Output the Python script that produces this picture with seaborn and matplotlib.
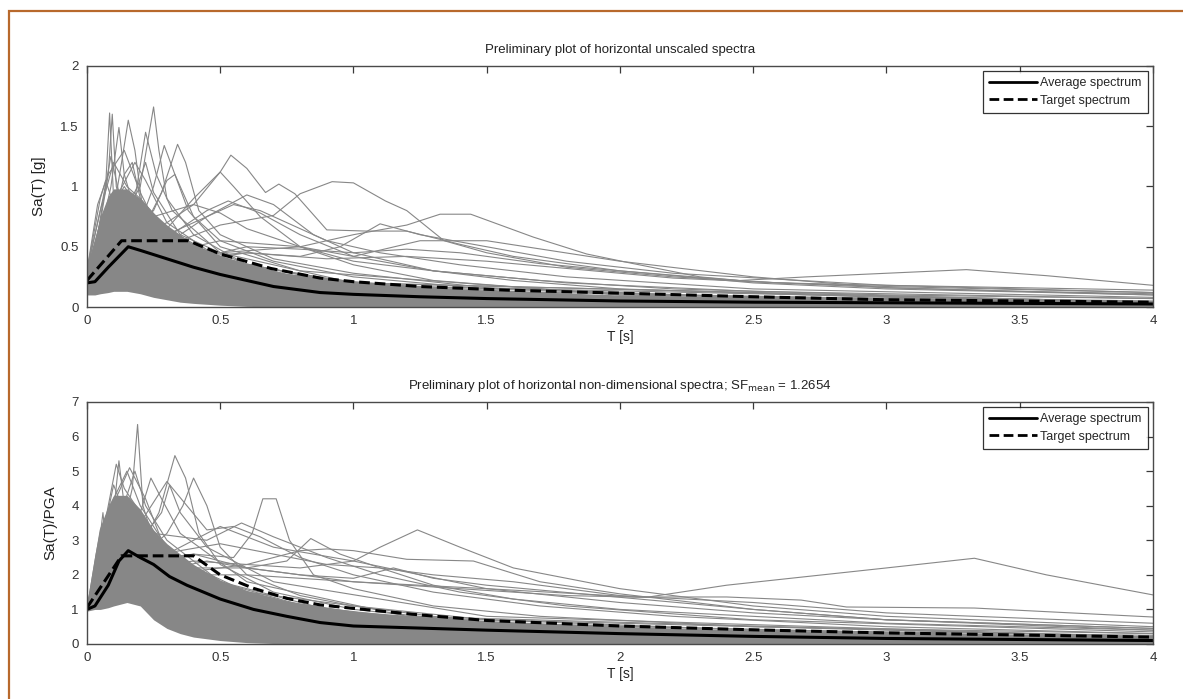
import numpy as np
import pandas as pd
import matplotlib.pyplot as plt
import seaborn as sns
from matplotlib.patches import Rectangle

# ---- data ----
# average / target spectra, top panel (Sa in g)
top_avg_T = [0, 0.03, 0.08, 0.155, 0.2, 0.3, 0.4, 0.5, 0.7, 0.875, 1.0, 1.25, 1.5, 2, 2.5, 3, 3.5, 4]
top_avg_sa = [0.2, 0.21, 0.33, 0.5, 0.47, 0.4, 0.33, 0.27, 0.17, 0.12, 0.105, 0.085, 0.07, 0.05, 0.04, 0.035, 0.03, 0.025]
top_tgt_T = [0, 0.13, 0.38, 0.5, 0.69, 0.875, 1.0, 1.25, 1.575, 2, 2.5, 3, 3.5, 4]
top_tgt_sa = [0.22, 0.55, 0.55, 0.44, 0.32, 0.24, 0.21, 0.17, 0.14, 0.115, 0.085, 0.06, 0.05, 0.04]

# average / target spectra, bottom panel (Sa/PGA)
bot_avg_T = [0, 0.03, 0.08, 0.12, 0.155, 0.2, 0.25, 0.31, 0.375, 0.5, 0.625, 0.75, 0.875, 1.0, 1.25, 1.5, 2, 2.5, 3, 3.5, 4]
bot_avg_sa = [1.0, 1.1, 1.7, 2.4, 2.7, 2.5, 2.3, 1.95, 1.7, 1.3, 1.0, 0.8, 0.62, 0.52, 0.46, 0.4, 0.3, 0.22, 0.16, 0.13, 0.1]
bot_tgt_T = [0, 0.13, 0.4, 0.5, 0.625, 0.75, 0.875, 1.0, 1.25, 1.5, 2, 2.5, 3, 3.5, 4]
bot_tgt_sa = [1.05, 2.55, 2.55, 2.0, 1.61, 1.32, 1.13, 1.03, 0.84, 0.68, 0.52, 0.41, 0.32, 0.26, 0.2]

# envelope of the dense bundle of records
env_T = [0, 0.03, 0.05, 0.08, 0.1, 0.15, 0.2, 0.25, 0.3, 0.35, 0.4, 0.5, 0.6, 0.75, 1.0, 1.25, 1.5, 2, 2.5, 3, 3.5, 4]
top_env_hi = [0.33, 0.55, 0.75, 0.92, 0.98, 0.98, 0.9, 0.78, 0.68, 0.6, 0.52, 0.43, 0.36, 0.28, 0.21, 0.17, 0.14, 0.1, 0.08, 0.065, 0.055, 0.045]
top_env_lo = [0.1, 0.1, 0.11, 0.12, 0.13, 0.13, 0.11, 0.08, 0.06, 0.04, 0.03, 0.015, 0.005, 0, 0, 0, 0, 0, 0, 0, 0, 0]
bot_env_hi = [1.2, 2.6, 3.4, 4.0, 4.3, 4.3, 3.9, 3.3, 2.9, 2.6, 2.3, 1.85, 1.55, 1.25, 0.95, 0.8, 0.68, 0.5, 0.4, 0.33, 0.28, 0.24]
bot_env_lo = [0.95, 1.0, 1.0, 1.05, 1.1, 1.2, 1.1, 0.7, 0.45, 0.3, 0.2, 0.1, 0.04, 0, 0, 0, 0, 0, 0, 0, 0, 0]

# individual records that stand out of the bundle, top panel
top_rec_T = [
    [0, 0.04, 0.07, 0.085, 0.1, 0.13, 0.2, 0.3, 0.5, 0.8, 1.2, 2, 3, 4],
    [0, 0.05, 0.08, 0.095, 0.11, 0.15, 0.25, 0.4, 0.7, 1, 2, 4],
    [0, 0.05, 0.09, 0.12, 0.14, 0.18, 0.25, 0.4, 0.6, 1, 2, 4],
    [0, 0.06, 0.1, 0.13, 0.155, 0.18, 0.21, 0.3, 0.5, 0.8, 1.5, 4],
    [0, 0.08, 0.15, 0.2, 0.23, 0.25, 0.27, 0.3, 0.4, 0.6, 1, 2, 4],
    [0, 0.1, 0.18, 0.22, 0.26, 0.32, 0.5, 1, 4],
    [0, 0.1, 0.2, 0.25, 0.29, 0.33, 0.4, 0.5, 0.7, 1, 1.5, 2.5, 4],
    [0, 0.1, 0.2, 0.28, 0.34, 0.37, 0.42, 0.5, 0.7, 1, 1.5, 2.5, 4],
    [0, 0.1, 0.2, 0.3, 0.4, 0.5, 0.54, 0.6, 0.67, 0.72, 0.78, 0.9, 1.05, 1.2, 1.4, 1.6, 2, 2.5, 3, 4],
    [0, 0.1, 0.2, 0.35, 0.5, 0.6, 0.7, 0.8, 0.92, 1.0, 1.12, 1.2, 1.34, 1.5, 1.8, 2.2, 2.6, 3, 4],
    [0, 0.2, 0.5, 0.8, 1.0, 1.2, 1.325, 1.44, 1.675, 1.875, 2.05, 2.3, 2.45, 2.7, 3.0, 3.3, 3.6, 4],
    [0, 0.2, 0.5, 0.8, 1.0, 1.25, 1.5, 2.0, 2.5, 3.0, 3.5, 4],
    [0, 0.15, 0.3, 0.4, 0.5, 0.55, 0.65, 0.8, 1.0, 1.3, 2, 4],
    [0, 0.2, 0.35, 0.45, 0.6, 0.7, 0.85, 1.0, 1.3, 1.6, 2, 3, 4],
    [0, 0.2, 0.35, 0.45, 0.53, 0.65, 0.8, 1.0, 1.3, 1.8, 2.5, 4],
    [0, 0.3, 0.6, 0.8, 0.95, 1.1, 1.25, 1.5, 1.8, 2.2, 3, 4],
    [0, 0.2, 0.4, 0.55, 0.65, 0.75, 0.9, 1.1, 1.4, 1.8, 2.5, 4],
    [0, 0.3, 0.6, 0.8, 1.0, 1.2, 1.4, 1.7, 2.0, 2.5, 3, 4],
    [0, 0.1, 0.25, 0.4, 0.5, 0.6, 0.8, 1.0, 1.3, 1.7, 2.2, 3, 4],
    [0, 0.05, 0.1, 0.15, 0.2, 0.3, 0.5, 1, 2, 4],
    [0, 0.05, 0.12, 0.18, 0.22, 0.3, 0.5, 1, 2, 4],
    [0, 0.04, 0.08, 0.14, 0.2, 0.28, 0.4, 0.7, 1.5, 4],
    [0, 0.3, 0.6, 0.9, 1.2, 1.5, 1.8, 2.2, 2.6, 3, 4],
    [0, 0.06, 0.09, 0.12, 0.16, 0.25, 0.4, 1, 4],
    [0, 0.1, 0.14, 0.17, 0.2, 0.3, 0.5, 1, 4],
    [0, 0.12, 0.19, 0.22, 0.25, 0.35, 0.6, 1, 4],
    [0, 0.05, 0.07, 0.1, 0.14, 0.2, 0.3, 0.6, 1.5, 4],
    [0, 0.15, 0.25, 0.3, 0.33, 0.38, 0.5, 0.8, 2, 4],
]
top_rec_sa = [
    [0.3, 0.6, 1.0, 1.61, 0.9, 0.8, 0.6, 0.4, 0.25, 0.15, 0.1, 0.05, 0.03, 0.02],
    [0.3, 0.7, 1.1, 1.6, 1.0, 0.7, 0.5, 0.35, 0.2, 0.12, 0.06, 0.02],
    [0.3, 0.6, 1.0, 1.49, 1.1, 0.8, 0.6, 0.4, 0.3, 0.15, 0.07, 0.03],
    [0.25, 0.5, 0.8, 1.2, 1.55, 1.3, 0.8, 0.55, 0.35, 0.2, 0.1, 0.03],
    [0.3, 0.6, 0.8, 1.0, 1.4, 1.66, 1.3, 0.9, 0.6, 0.35, 0.2, 0.08, 0.03],
    [0.25, 0.6, 0.9, 1.45, 1.1, 0.8, 0.45, 0.2, 0.04],
    [0.25, 0.5, 0.7, 1.0, 1.34, 1.1, 0.75, 0.55, 0.38, 0.25, 0.15, 0.08, 0.04],
    [0.2, 0.4, 0.6, 0.95, 1.35, 1.2, 0.8, 0.6, 0.4, 0.28, 0.16, 0.08, 0.04],
    [0.25, 0.45, 0.6, 0.7, 0.85, 1.12, 1.26, 1.15, 0.95, 1.02, 0.94, 0.64, 0.63, 0.63, 0.52, 0.42, 0.3, 0.2, 0.15, 0.1],
    [0.2, 0.35, 0.45, 0.55, 0.68, 0.72, 0.76, 0.94, 1.04, 1.03, 0.88, 0.8, 0.55, 0.45, 0.33, 0.25, 0.2, 0.17, 0.12],
    [0.15, 0.35, 0.45, 0.5, 0.6, 0.68, 0.77, 0.77, 0.58, 0.44, 0.36, 0.25, 0.22, 0.25, 0.28, 0.31, 0.26, 0.18],
    [0.15, 0.4, 0.55, 0.5, 0.42, 0.55, 0.55, 0.38, 0.25, 0.16, 0.13, 0.11],
    [0.2, 0.4, 0.65, 0.9, 1.12, 1.0, 0.75, 0.5, 0.35, 0.22, 0.1, 0.04],
    [0.25, 0.45, 0.6, 0.75, 0.93, 0.85, 0.6, 0.45, 0.3, 0.22, 0.15, 0.08, 0.05],
    [0.2, 0.45, 0.65, 0.8, 0.88, 0.78, 0.6, 0.42, 0.3, 0.2, 0.13, 0.07],
    [0.15, 0.35, 0.45, 0.42, 0.5, 0.69, 0.6, 0.5, 0.38, 0.28, 0.18, 0.12],
    [0.2, 0.5, 0.7, 0.85, 0.8, 0.7, 0.55, 0.45, 0.35, 0.25, 0.15, 0.08],
    [0.15, 0.35, 0.5, 0.48, 0.45, 0.48, 0.45, 0.36, 0.3, 0.21, 0.16, 0.1],
    [0.25, 0.55, 0.75, 0.85, 0.78, 0.65, 0.5, 0.38, 0.3, 0.22, 0.15, 0.1, 0.07],
    [0.3, 0.8, 1.2, 1.0, 0.9, 0.6, 0.35, 0.15, 0.06, 0.02],
    [0.28, 0.7, 0.95, 1.2, 1.05, 0.7, 0.4, 0.18, 0.07, 0.03],
    [0.3, 0.85, 1.1, 1.3, 0.95, 0.6, 0.45, 0.25, 0.1, 0.03],
    [0.15, 0.4, 0.45, 0.4, 0.42, 0.38, 0.32, 0.24, 0.2, 0.18, 0.14],
    [0.3, 0.9, 1.25, 0.95, 0.85, 0.6, 0.4, 0.15, 0.03],
    [0.25, 0.7, 1.1, 1.2, 0.9, 0.65, 0.4, 0.18, 0.04],
    [0.25, 0.7, 1.0, 1.2, 0.95, 0.6, 0.35, 0.2, 0.04],
    [0.3, 0.9, 1.05, 0.85, 1.0, 0.8, 0.55, 0.3, 0.1, 0.03],
    [0.2, 0.6, 0.8, 1.05, 1.1, 0.8, 0.5, 0.3, 0.1, 0.04],
]

# individual records, bottom panel
bot_rec_T = [
    [0, 0.08, 0.14, 0.17, 0.19, 0.21, 0.25, 0.35, 0.5, 0.8, 1.2, 2, 4],
    [0, 0.06, 0.1, 0.12, 0.14, 0.2, 0.3, 0.5, 1, 2, 4],
    [0, 0.1, 0.2, 0.27, 0.33, 0.37, 0.42, 0.5, 0.7, 1, 1.5, 2.5, 4],
    [0, 0.1, 0.2, 0.3, 0.36, 0.4, 0.45, 0.5, 0.6, 0.8, 1, 1.5, 2.5, 4],
    [0, 0.2, 0.4, 0.55, 0.62, 0.66, 0.71, 0.76, 0.85, 1.0, 1.3, 1.7, 2.5, 4],
    [0, 0.2, 0.45, 0.6, 0.75, 0.84, 0.95, 1.1, 1.3, 1.6, 2, 3, 4],
    [0, 0.3, 0.6, 0.8, 1.0, 1.1, 1.24, 1.4, 1.6, 2.0, 2.5, 3, 4],
    [0, 0.3, 0.6, 1.0, 1.4, 1.8, 2.1, 2.4, 2.7, 3.0, 3.33, 3.6, 4],
    [0, 0.3, 0.6, 1, 1.5, 2.06, 2.4, 2.68, 2.85, 3.33, 4],
    [0, 0.04, 0.06, 0.075, 0.1, 0.2, 0.4, 1, 4],
    [0, 0.1, 0.2, 0.3, 0.45, 0.55, 0.65, 0.8, 1.0, 1.3, 1.7, 2.2, 3, 4],
    [0, 0.1, 0.25, 0.45, 0.58, 0.7, 0.9, 1.1, 1.4, 1.8, 2.5, 4],
    [0, 0.2, 0.4, 0.6, 0.8, 0.9, 1.0, 1.2, 1.45, 1.7, 2.0, 2.5, 3, 4],
    [0, 0.2, 0.4, 0.6, 0.8, 1.0, 1.15, 1.3, 1.5, 2, 2.5, 3, 4],
    [0, 0.05, 0.1, 0.15, 0.2, 0.3, 0.5, 1, 2, 4],
    [0, 0.05, 0.12, 0.16, 0.22, 0.28, 0.4, 0.7, 1.5, 4],
    [0, 0.2, 0.5, 0.7, 0.9, 1.1, 1.3, 1.6, 2, 2.5, 3, 4],
    [0, 0.3, 0.5, 0.7, 0.85, 1.0, 1.25, 1.5, 2, 2.5, 3, 4],
    [0, 0.07, 0.1, 0.13, 0.18, 0.25, 0.4, 1, 4],
    [0, 0.1, 0.15, 0.18, 0.22, 0.3, 0.5, 1, 4],
    [0, 0.12, 0.2, 0.24, 0.28, 0.35, 0.6, 1.2, 4],
    [0, 0.2, 0.28, 0.31, 0.35, 0.45, 0.7, 1.5, 4],
    [0, 0.06, 0.09, 0.11, 0.14, 0.2, 0.3, 0.6, 1.5, 4],
]
bot_rec_sa = [
    [1, 2.5, 3.5, 4.5, 6.35, 4.0, 3.0, 2.0, 1.3, 0.8, 0.5, 0.3, 0.15],
    [1, 2.5, 3.8, 5.3, 4.0, 3.0, 2.0, 1.2, 0.5, 0.25, 0.1],
    [1, 2, 2.8, 3.8, 5.45, 4.8, 3.2, 2.3, 1.5, 1.0, 0.6, 0.35, 0.2],
    [1, 1.8, 2.5, 3.2, 4.0, 4.8, 4.0, 2.8, 2.0, 1.4, 1.1, 0.7, 0.4, 0.25],
    [1, 2.2, 2.6, 2.5, 3.2, 4.2, 4.2, 3.0, 2.0, 1.6, 1.1, 0.8, 0.5, 0.3],
    [1, 2.0, 2.4, 2.2, 2.4, 3.05, 2.6, 2.2, 1.7, 1.3, 1.0, 0.6, 0.4],
    [1, 2.0, 2.3, 2.2, 2.4, 2.8, 3.3, 2.8, 2.2, 1.6, 1.1, 0.8, 0.5],
    [1, 2.0, 2.0, 1.8, 1.6, 1.4, 1.35, 1.7, 1.95, 2.2, 2.48, 2.0, 1.42],
    [1, 2.2, 2.2, 1.8, 1.6, 1.36, 1.36, 1.27, 1.07, 1.04, 0.78],
    [1, 2.5, 3.8, 2.6, 2.5, 2.0, 1.3, 0.6, 0.15],
    [1, 2.5, 3.5, 4.7, 3.3, 3.4, 3.1, 2.5, 2.0, 1.5, 1.1, 0.8, 0.5, 0.3],
    [1, 2.8, 3.2, 3.0, 3.5, 3.1, 2.5, 2.0, 1.5, 1.1, 0.7, 0.35],
    [1, 2.2, 2.4, 2.3, 2.7, 2.75, 2.7, 2.45, 2.4, 1.8, 1.45, 1.0, 0.7, 0.45],
    [1, 2.4, 2.6, 2.2, 2.0, 1.9, 2.2, 1.9, 1.7, 1.35, 1.0, 0.7, 0.4],
    [1, 3.0, 4.2, 5.0, 4.0, 2.8, 1.6, 0.7, 0.3, 0.1],
    [1, 3.3, 4.4, 5.1, 4.2, 3.0, 2.1, 1.2, 0.5, 0.15],
    [1, 2.5, 2.9, 2.6, 2.3, 2.2, 2.0, 1.8, 1.4, 1.2, 0.9, 0.6],
    [1, 2.6, 3.4, 2.8, 2.6, 2.4, 2.0, 1.6, 1.2, 0.9, 0.7, 0.45],
    [1, 3.5, 4.6, 4.0, 3.8, 3.0, 2.0, 0.7, 0.15],
    [1, 3.5, 4.3, 5.0, 4.0, 3.0, 1.8, 0.8, 0.2],
    [1, 3.0, 3.8, 4.8, 4.2, 3.2, 1.8, 0.8, 0.2],
    [1, 3.0, 3.8, 4.6, 3.8, 2.8, 1.8, 0.8, 0.2],
    [1, 3.2, 4.4, 5.2, 4.5, 3.8, 2.6, 1.5, 0.6, 0.15],
]

x_ticks = [0, 0.5, 1, 1.5, 2, 2.5, 3, 3.5, 4]
x_tick_labels = ["0", "0.5", "1", "1.5", "2", "2.5", "3", "3.5", "4"]


def records_frame(rec_T, rec_sa):
    rows = []
    for i, (ts, vs) in enumerate(zip(rec_T, rec_sa)):
        for t, v in zip(ts, vs):
            rows.append({"rec": i, "T": t, "Sa": v})
    return pd.DataFrame(rows)


def draw_panel(ax, rec_T, rec_sa, env_lo, env_hi, avg_T, avg_sa, tgt_T, tgt_sa,
               ymax, yticks, ylabel, title):
    grey = "#878787"
    ax.fill_between(env_T, env_lo, env_hi, color=grey, linewidth=0, zorder=1)
    recs = records_frame(rec_T, rec_sa)
    sns.lineplot(data=recs, x="T", y="Sa", units="rec", estimator=None,
                 color=grey, linewidth=0.8, legend=False, ax=ax, zorder=2)
    sns.lineplot(x=avg_T, y=avg_sa, color="black", linewidth=2.2,
                 label="Average spectrum", ax=ax, zorder=4)
    sns.lineplot(x=tgt_T, y=tgt_sa, color="black", linewidth=2.2,
                 linestyle=(0, (3.5, 1.6)), label="Target spectrum", ax=ax, zorder=4)

    ax.set_xlim(0, 4)
    ax.set_ylim(0, ymax)
    ax.set_xticks(x_ticks)
    ax.set_xticklabels(x_tick_labels)
    ax.set_yticks(yticks)
    ax.set_yticklabels([str(y) for y in yticks])
    ax.tick_params(direction="in", top=True, right=True, length=5, width=0.9,
                   color="#3a3a3a", labelsize=9.5, labelcolor="#333333", pad=6)
    for sp in ax.spines.values():
        sp.set_color("#4a4a4a")
        sp.set_linewidth(1.0)
        sp.set_zorder(5)
    ax.set_xlabel("T [s]", fontsize=10, color="#222222", labelpad=2)
    ax.set_ylabel(ylabel, fontsize=11, color="#222222", labelpad=10)
    ax.set_title(title, fontsize=9.5, color="#222222", pad=9)
    leg = ax.legend(loc="upper right", fontsize=9, frameon=True, fancybox=False,
                    handlelength=3.8, handletextpad=0.3, borderpad=0.5,
                    labelspacing=0.45, borderaxespad=0.4)
    leg.get_frame().set_edgecolor("black")
    leg.get_frame().set_linewidth(0.9)
    for line in leg.get_lines():
        line.set_linewidth(2.0)


sns.set_style("white")
plt.rcParams["font.family"] = ["Liberation Sans", "DejaVu Sans"]

fig = plt.figure(figsize=(11.83, 6.99), dpi=100)
ax_top = fig.add_axes([0.0735, 0.5608, 0.9011, 0.3448])
ax_bot = fig.add_axes([0.0735, 0.0787, 0.9011, 0.3462])

draw_panel(ax_top, top_rec_T, top_rec_sa, top_env_lo, top_env_hi,
           top_avg_T, top_avg_sa, top_tgt_T, top_tgt_sa,
           2, [0, 0.5, 1, 1.5, 2], "Sa(T) [g]",
           "Preliminary plot of horizontal unscaled spectra")
draw_panel(ax_bot, bot_rec_T, bot_rec_sa, bot_env_lo, bot_env_hi,
           bot_avg_T, bot_avg_sa, bot_tgt_T, bot_tgt_sa,
           7, [0, 1, 2, 3, 4, 5, 6, 7], "Sa(T)/PGA",
           "Preliminary plot of horizontal non-dimensional spectra; SF$_{\\mathrm{mean}}$ = 1.2654")

# orange frame of the original screenshot
fig.patches.append(Rectangle((9 / 1183, -0.1), 1.2, 1.1 - 11 / 699,
                             transform=fig.transFigure, fill=False,
                             edgecolor="#B8692C", linewidth=1.6))

fig.savefig("out.png", dpi=100)
plt.close(fig)
